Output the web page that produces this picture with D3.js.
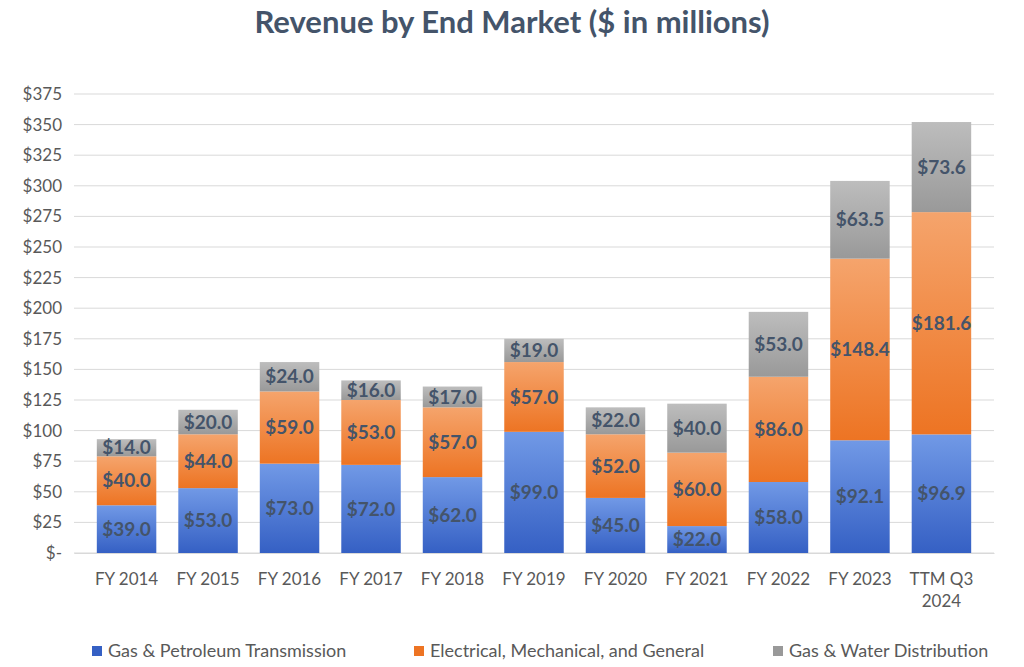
<!DOCTYPE html>
<html><head><meta charset="utf-8">
<script src="https://cdn.jsdelivr.net/npm/d3@7"></script>
<style>body{margin:0;background:#fff;font-family:Lato,"Liberation Sans",sans-serif}</style>
</head><body><div id="chart"></div>
<script>
const categories = ["FY 2014","FY 2015","FY 2016","FY 2017","FY 2018","FY 2019","FY 2020","FY 2021","FY 2022","FY 2023","TTM Q3 2024"];
const gasPetroleum = [39,53,73,72,62,99,45,22,58,92.1,96.9];
const electrical = [40,44,59,53,57,57,52,60,86,148.4,181.6];
const gasWater = [14,20,24,16,17,19,22,40,53,63.5,73.6];
const seriesNames = ["Gas & Petroleum Transmission","Electrical, Mechanical, and General","Gas & Water Distribution"];
const yTicks = [0,25,50,75,100,125,150,175,200,225,250,275,300,325,350,375];

const width = 1024, height = 667;
const margin = {top: 94, right: 30, bottom: 114, left: 74};
const svg = d3.select("#chart").append("svg").attr("width", width).attr("height", height);

const grads = [
  {id: "g0", top: "#7199E6", bot: "#3560C4"},
  {id: "g1", top: "#F5A46C", bot: "#ED7423"},
  {id: "g2", top: "#BDBDBD", bot: "#999999"}
];
const defs = svg.append("defs");
grads.forEach(g => {
  const lg = defs.append("linearGradient").attr("id", g.id).attr("x1", 0).attr("y1", 0).attr("x2", 0).attr("y2", 1);
  lg.append("stop").attr("offset", "0%").attr("stop-color", g.top);
  lg.append("stop").attr("offset", "100%").attr("stop-color", g.bot);
});

const x = d3.scaleBand().domain(categories).range([margin.left, width - margin.right]).paddingInner(0.27).paddingOuter(0.28);
const y = d3.scaleLinear().domain([0, 375]).range([height - margin.bottom, margin.top]);

svg.append("text").attr("x", width / 2).attr("y", 33).attr("text-anchor", "middle")
  .attr("font-size", 31).attr("font-weight", "bold").attr("fill", "#44546A")
  .text("Revenue by End Market ($ in millions)");

svg.append("g").selectAll("line").data(yTicks).join("line")
  .attr("x1", margin.left).attr("x2", width - margin.right)
  .attr("y1", d => y(d)).attr("y2", d => y(d))
  .attr("stroke", "#D9D9D9").attr("stroke-width", 1);

const yAxis = svg.append("g").attr("transform", `translate(${margin.left},0)`)
  .call(d3.axisLeft(y).tickValues(yTicks).tickSize(0).tickPadding(12).tickFormat(d => d === 0 ? "$-" : "$" + d));
yAxis.select(".domain").remove();
yAxis.selectAll("text").attr("font-size", 17).attr("fill", "#595959").attr("font-family", "Lato,sans-serif");

const xAxis = svg.append("g").attr("transform", `translate(0,${y(0)})`)
  .call(d3.axisBottom(x).tickSize(0).tickPadding(20));
xAxis.select(".domain").attr("stroke", "#D9D9D9");
xAxis.selectAll("text").attr("font-size", 17).attr("fill", "#595959").attr("font-family", "Lato,sans-serif")
  .each(function(d) {
    if (d === "TTM Q3 2024") {
      const t = d3.select(this); t.text(null);
      t.append("tspan").attr("x", 0).attr("dy", "0.71em").text("TTM Q3");
      t.append("tspan").attr("x", 0).attr("dy", "1.3em").text("2024");
      t.attr("dy", null);
    }
  });

const data = categories.map((c, i) => ({cat: c, s0: gasPetroleum[i], s1: electrical[i], s2: gasWater[i]}));
const stacked = d3.stack().keys(["s0", "s1", "s2"])(data);

stacked.forEach((layer, k) => {
  const g = svg.append("g");
  g.selectAll("rect").data(layer).join("rect")
    .attr("x", d => x(d.data.cat)).attr("width", x.bandwidth())
    .attr("y", d => y(d[1])).attr("height", d => y(d[0]) - y(d[1]))
    .attr("fill", `url(#g${k})`);
  g.selectAll("text").data(layer).join("text")
    .attr("x", d => x(d.data.cat) + x.bandwidth() / 2)
    .attr("y", d => (y(d[0]) + y(d[1])) / 2).attr("dy", "0.35em")
    .attr("text-anchor", "middle").attr("font-size", 19).attr("font-weight", "bold").attr("fill", "#44546A")
    .text(d => "$" + (d[1] - d[0]).toFixed(1));
});

const legendX = [92, 414, 773];
const lg = svg.append("g").selectAll("g").data(seriesNames).join("g")
  .attr("transform", (d, i) => `translate(${legendX[i]},651)`);
lg.append("rect").attr("x", 0).attr("y", -5).attr("width", 10).attr("height", 10).attr("fill", (d, i) => grads[i].bot);
lg.append("text").attr("x", 16).attr("dy", "0.35em").attr("font-size", 18).attr("fill", "#595959").text(d => d);
</script></body></html>
